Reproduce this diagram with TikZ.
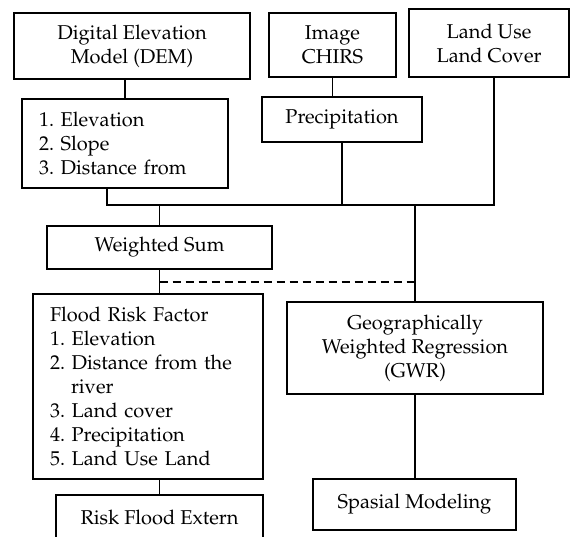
\documentclass[tikz,border=0pt]{standalone}
\usepackage[T1]{fontenc}
\usepackage{mathpazo}
\tikzset{
  box/.style={draw,line width=0.8pt,inner sep=0pt,align=center,
    font=\fontsize{10}{12}\selectfont\frenchspacing},
  listbox/.style={box,align=left,inner xsep=8.5pt},
}

\begin{document}
\begin{tikzpicture}[x=0.5pt,y=-0.5pt,line width=0.8pt]
\useasboundingbox (0,0) rectangle (571,536);

% input data
\node[box,minimum width=118pt,minimum height=33pt] (dem) at (132,46) {Digital Elevation\\Model (DEM)};
\node[box,minimum width=63.5pt,minimum height=32pt] (img) at (332.5,45) {Image\\CHIRS};
\node[box,minimum width=80pt,minimum height=34pt] (luc) at (489,43) {Land Use\\Land Cover};

\node[listbox,text width=86pt,minimum height=44.5pt] (fac) at (125,143.5) {1. Elevation\\2. Slope\\3. Distance from};
\node[box,minimum width=80pt,minimum height=22.5pt] (pre) at (342,119.5) {Precipitation};

% analysis
\node[box,minimum width=112.5pt,minimum height=21.5pt] (ws) at (159.5,247.5) {Weighted Sum};
\node[listbox,text width=98pt,minimum height=92.5pt] (frf) at (148,386.5) {Flood Risk Factor\\1. Elevation\\2. Distance from the\\\hspace*{10.5pt}river\\3. Land cover\\4. Precipitation\\5. Land Use Land};
\node[box,minimum width=103.5pt,minimum height=22.5pt] (rfe) at (159.5,517.5) {Risk Flood Extern};

\node[box,minimum width=128pt,minimum height=46pt] (gwr) at (415,348) {Geographically\\Weighted Regression\\(GWR)};
\node[box,minimum width=101.5pt,minimum height=25.5pt] (spm) at (414.5,504.5) {Spasial Modeling};

\coordinate (busL) at (107,205);
\coordinate (busR) at (494,205);
\coordinate (dsh) at (0,282);

\draw (fac.north) -- (fac.north |- dem.south);
\draw (img.south) -- (img.south |- pre.north);

\draw (fac.south -| busL) -- (busL) -- (busR) -- (luc.south -| busR);
\draw (pre.south) -- (pre.south |- busL);
\draw (ws.north) -- (ws.north |- busL);
\draw (gwr.north) -- (gwr.north |- busL);

\draw (ws.south) -- (ws.south |- frf.north);
\draw[dash pattern=on 4pt off 2.5pt] (ws.south |- dsh) -- (gwr.north |- dsh);
\draw (rfe.north) -- (rfe.north |- frf.south);
\draw (gwr.south) -- (gwr.south |- spm.north);

\end{tikzpicture}
\end{document}
